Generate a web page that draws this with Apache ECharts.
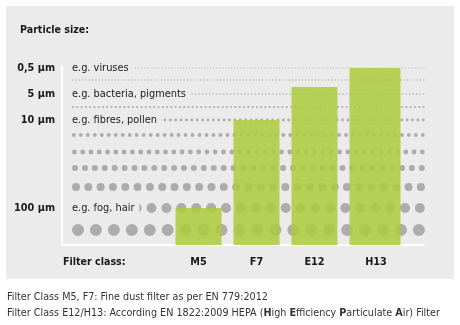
<!DOCTYPE html>
<html>
<head>
<meta charset="utf-8">
<script src="https://cdn.jsdelivr.net/npm/echarts@6/dist/echarts.min.js"></script>
<style>
  html, body { margin: 0; padding: 0; background: #fff; }
  #chart { width: 460px; height: 325px; }
</style>
</head>
<body>
<div id="chart"></div>
<script>
// Filter classes along the bottom axis
const filterClasses = ['M5', 'F7', 'E12', 'H13'];

// Particle-size rows from the finest (top) to the coarsest (bottom),
// as height above the baseline in chart units
const rowLevels = [177, 165, 151, 138, 125, 110, 93, 77, 58, 37, 15];

// Named sizes on the left, their example text, and the row they sit on
const sizeLabels = ['0,5 µm', '5 µm', '10 µm', '100 µm'];
const sizeExamples = ['e.g. viruses', 'e.g. bacteria, pigments', 'e.g. fibres, pollen', 'e.g. fog, hair'];
const sizeRows = [0, 2, 4, 9];

// How fine each filter class separates (bar top), same units as rowLevels
const fineDustValues = [37, 125, 158, null];   // M5, F7, E12
const hepaValues = [null, null, null, 177];     // H13

// Dot diameter and number of dots in each row (dots grow with particle size)
const dotSize = [1.2, 1.4, 1.6, 2.1, 2.8, 3.8, 4.8, 6.1, 8, 10, 12];
const dotCount = [118, 108, 101, 83, 66, 51, 43, 36, 29, 24, 20];

const FONT = "'DejaVu Sans Condensed', 'DejaVu Sans', sans-serif";
const PANEL = '#ebebeb';
const Y_MAX = 179;
const DOT_SPAN = 353;   // pixel length of the dot rows (grid 1 width)

const labelLevels = sizeRows.map(r => rowLevels[r]);
const nameAt = (list) => (v) => {
  const i = labelLevels.indexOf(v);
  return i < 0 ? '' : list[i];
};

// Each row is a dashed line of zero-length dashes with round caps,
// so it renders as a row of dots that fills the row from end to end.
const dotSeries = rowLevels.map((lvl, i) => {
  const d = dotSize[i];
  const pitch = (DOT_SPAN - d) / (dotCount[i] - 1) - 0.005;
  return {
    type: 'line',
    xAxisIndex: 1,
    yAxisIndex: 1,
    data: [[0, lvl], [1, lvl]],
    symbol: 'none',
    silent: true,
    clip: false,
    z: 1,
    lineStyle: {
      color: '#acacac',
      width: d,
      type: [0, pitch],
      cap: 'round',
      dashOffset: pitch - d / 2
    }
  };
});

const barStyle = { color: 'rgba(172, 203, 58, 0.85)' };
const labelText = { fontFamily: FONT, fontWeight: 'bold', color: '#1a1a1a' };

const chart = echarts.init(document.getElementById('chart'), null, { renderer: 'canvas' });
chart.setOption({
  animation: false,
  backgroundColor: '#ffffff',
  textStyle: { fontFamily: FONT },
  graphic: [{
    type: 'rect',
    left: 6, top: 6,
    shape: { width: 448, height: 273 },
    style: { fill: PANEL },
    z: -100
  }],
  title: [
    {
      text: 'Particle size:',
      left: 20, top: 25, padding: 0,
      textStyle: Object.assign({ fontSize: 10.6 }, labelText)
    },
    {
      text: 'Filter class:',
      left: 63, top: 257, padding: 0,
      textStyle: Object.assign({ fontSize: 10.6 }, labelText)
    },
    {
      text: 'Filter Class M5, F7: Fine dust filter as per EN 779:2012\n' +
            'Filter Class E12/H13: According EN 1822:2009 HEPA ({b|H}igh {b|E}fficiency {b|P}articulate {b|A}ir) Filter',
      left: 7, top: 290, padding: 0,
      textStyle: {
        fontFamily: FONT, fontSize: 10.7, lineHeight: 15.2, color: '#333333', fontWeight: 'normal',
        rich: { b: { fontFamily: FONT, fontSize: 10.7, lineHeight: 15.2, color: '#333333', fontWeight: 'bold' } }
      }
    }
  ],
  grid: [
    { left: 62, right: 36, top: 66, bottom: 80 },   // frame with the size scale
    { left: 72, width: DOT_SPAN, top: 66, bottom: 80 },   // dot rows
    { left: 172, width: 232, top: 66, bottom: 80 }  // filter bars
  ],
  xAxis: [
    {
      gridIndex: 0, type: 'value', min: 0, max: 1,
      axisLine: { show: true, lineStyle: { color: '#ffffff', width: 2 } },
      axisTick: { show: false }, axisLabel: { show: false }, splitLine: { show: false }
    },
    { gridIndex: 1, type: 'value', min: 0, max: 1, show: false },
    {
      gridIndex: 2, type: 'category',
      data: filterClasses.map((c, i) => ({
        value: c,
        textStyle: { padding: i < 3 ? [0, 5, 0, 0] : [0, 0, 0, 2] }
      })),
      axisLine: { show: false }, axisTick: { show: false },
      axisLabel: Object.assign({ margin: 12, fontSize: 10.8 }, labelText)
    }
  ],
  yAxis: [
    {
      gridIndex: 0, type: 'value', min: 0, max: Y_MAX,
      axisLine: { show: true, onZero: false, lineStyle: { color: '#ffffff', width: 2 } },
      axisTick: { show: false }, splitLine: { show: false },
      axisLabel: Object.assign({
        customValues: labelLevels,
        formatter: nameAt(sizeLabels),
        margin: 7,
        fontSize: 10.8
      }, labelText)
    },
    {
      gridIndex: 1, type: 'value', min: 0, max: Y_MAX, z: 5,
      axisLine: { show: false }, axisTick: { show: false }, splitLine: { show: false },
      axisLabel: {
        inside: true,
        customValues: labelLevels,
        formatter: nameAt(sizeExamples),
        margin: 0,
        fontFamily: FONT, fontSize: 10.9, color: '#1a1a1a',
        backgroundColor: PANEL,
        padding: [1, 5, 1, 0]
      }
    },
    { gridIndex: 2, type: 'value', min: 0, max: Y_MAX, show: false }
  ],
  series: dotSeries.concat([
    {
      name: 'Fine dust',
      type: 'bar', xAxisIndex: 2, yAxisIndex: 2,
      data: fineDustValues.map(v => v === null ? '-' : v),
      barWidth: 46, barGap: '-100%',
      itemStyle: barStyle, z: 3, silent: true
    },
    {
      name: 'HEPA',
      type: 'bar', xAxisIndex: 2, yAxisIndex: 2,
      data: hepaValues.map(v => v === null ? '-' : v),
      barWidth: 51, barGap: '-100%',
      itemStyle: barStyle, z: 3, silent: true
    }
  ])
});
</script>
</body>
</html>
